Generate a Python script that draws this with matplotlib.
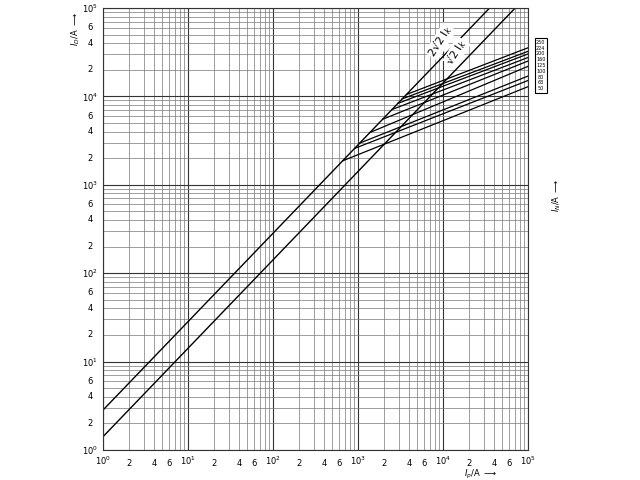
import numpy as np
import matplotlib
matplotlib.use("Agg")
import matplotlib.pyplot as plt
from matplotlib.ticker import LogLocator, FixedFormatter

fuse_labels = ["250", "224", "200", "160", "125", "100", "80", "63", "50"]
start_logx = [3.57, 3.52, 3.47, 3.40, 3.29, 3.14, 3.02, 2.96, 2.82]
end_logy = [4.55, 4.51, 4.48, 4.44, 4.40, 4.34, 4.23, 4.18, 4.11]

fig = plt.figure(figsize=(6.4, 4.8), dpi=100)
ax = fig.add_axes([103/640, 30/480, 425/640, 442/480])
ax.set_xscale("log"); ax.set_yscale("log")
ax.set_xlim(1, 1e5); ax.set_ylim(1, 1e5)

x = np.array([1, 1e5])
ax.plot(x, np.sqrt(2)*x, color="black", lw=1)
ax.plot(x, 2*np.sqrt(2)*x, color="black", lw=1)
for sx, ey in zip(start_logx, end_logy):
    x0 = 10**sx
    ax.plot([x0, 1e5], [2*np.sqrt(2)*x0, 10**ey], color="black", lw=0.9)

ax.text(10**3.97, 10**4.62, "2√2 I$_k$", rotation=58, fontsize=8, ha="center", va="center",
        bbox=dict(fc="white", ec="none", pad=0.3))
ax.text(10**4.16, 10**4.5, "√2 I$_k$", rotation=58, fontsize=8, ha="center", va="center",
        bbox=dict(fc="white", ec="none", pad=0.3))

minors = [2, 4, 6]
for a in (ax.xaxis, ax.yaxis):
    a.set_major_locator(LogLocator(base=10, numticks=10))
    a.set_minor_locator(LogLocator(base=10, subs=np.arange(2, 10), numticks=10))
    a.set_minor_formatter(FixedFormatter([]))
ax.tick_params(which="both", labelsize=6, length=0)
ax.grid(True, which="major", color="#333333", lw=0.8)
ax.grid(True, which="minor", color="#777777", lw=0.5)
for d in range(5):
    for m in minors:
        ax.text(10**d*m, 0.8, str(m), fontsize=6, ha="center", va="top")
        ax.text(0.75, 10**d*m, str(m), fontsize=6, ha="right", va="center")
for s in ax.spines.values():
    s.set_color("#333333")

ax.text(1.03, 0.87, "\n".join(fuse_labels), transform=ax.transAxes, fontsize=3.5,
        ha="center", va="center", bbox=dict(boxstyle="square,pad=0.3", fc="white", ec="black", lw=0.8))
fig.text(76/640, 1-12/480, r"$I_D$/A $\longrightarrow$", rotation=90, fontsize=6, ha="center", va="top")
fig.text(557/640, 1-195/480, r"$I_N$/A $\longrightarrow$", rotation=90, fontsize=6, ha="center", va="center")
fig.text(480/640, 1-474/480, r"$I_p$/A $\longrightarrow$", fontsize=6, ha="center", va="center")
fig.savefig("out.png", dpi=100, facecolor="white")
